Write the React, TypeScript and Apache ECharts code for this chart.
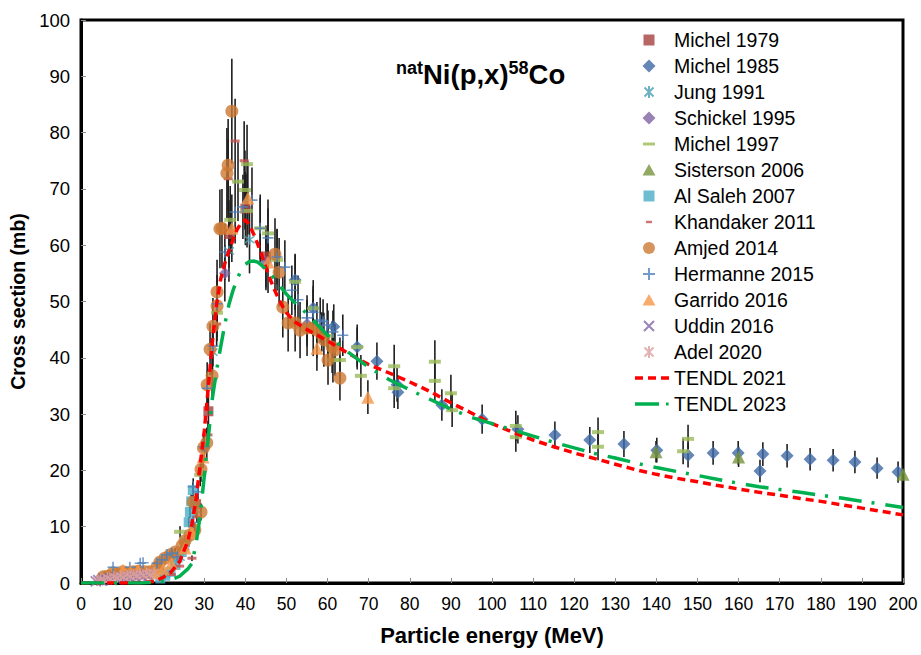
import React, { useEffect, useRef } from 'react';
import * as echarts from 'echarts';

// [energy (MeV), cross section (mb), uncertainty (mb)]
type Pt = [number, number, number];

const michel1979: Pt[] = [[28.0, 14.0, 1.4], [31.0, 30.5, 3.0], [36.0, 62.0, 6.0], [40.0, 66.5, 6.5], [45.0, 58.0, 5.5]];

const michel1985: Pt[] = [
  [52.1, 53.8, 4.5], [56.5, 48.8, 4.0], [61.5, 45.5, 4.0], [67.2, 41.9, 3.5], [72.0, 39.4, 3.3],
  [77.1, 33.9, 3.0], [76.9, 35.2, 3.0], [87.8, 31.6, 2.8], [97.6, 29.1, 2.6], [106.3, 27.3, 2.5],
  [115.3, 26.3, 2.4], [123.8, 25.4, 2.3], [132.1, 24.7, 2.3], [140.1, 23.6, 2.2], [147.7, 22.7, 2.2],
  [153.8, 23.1, 2.1], [159.9, 23.1, 2.1], [165.9, 22.9, 2.1], [165.2, 19.9, 2.0], [171.8, 22.6, 2.1],
  [177.4, 22.0, 2.0], [183.0, 21.8, 2.0], [188.3, 21.5, 2.0], [193.7, 20.4, 1.9], [198.8, 19.7, 1.9],
];

const jung1991: Pt[] = [[20.5, 1.6, 0.2], [24.0, 4.6, 0.5], [28.0, 13.0, 1.3], [32.0, 41.0, 4.0], [36.0, 59.0, 5.5], [41.0, 61.0, 6.0]];

const schickel1995: Pt[] = [[25.0, 6.0, 0.6], [30.0, 24.0, 2.4], [35.0, 55.0, 5.0], [45.0, 57.0, 5.0], [55.0, 46.0, 4.0]];

const michel1997: Pt[] = [
  [24.1, 9.1, 1.0], [29.0, 19.2, 2.0], [33.1, 48.0, 5.0], [36.3, 64.5, 6.0], [38.2, 71.3, 7.0],
  [39.9, 69.8, 7.0], [40.4, 74.4, 7.0], [40.4, 66.1, 6.5], [43.6, 63.0, 6.0], [45.5, 62.1, 6.0],
  [47.7, 57.4, 5.5], [52.1, 53.5, 5.0], [56.5, 48.8, 5.0], [60.1, 43.9, 4.5], [61.3, 39.6, 4.0],
  [63.0, 39.6, 4.0], [67.2, 41.9, 4.0], [68.1, 36.8, 3.7], [76.2, 38.5, 3.8], [76.2, 34.6, 3.5],
  [86.1, 39.3, 3.8], [86.1, 35.9, 3.5], [90.0, 33.7, 3.3], [90.3, 30.7, 3.0], [105.8, 27.9, 2.7],
  [105.8, 25.9, 2.6], [125.8, 26.8, 2.6], [125.8, 24.2, 2.4], [147.7, 25.6, 2.5], [146.5, 23.4, 2.3],
];

const sisterson2006: Pt[] = [[58.6, 44.6, 3.5], [139.9, 23.3, 1.9], [160.0, 22.4, 1.8], [200.0, 19.3, 1.6]];

const alSaleh2007: Pt[] = [
  [19.3, 0.8, 0], [20.5, 1.3, 0], [21.8, 2.0, 0], [23.0, 3.2, 0.3], [23.5, 4.5, 0.4], [24.5, 5.5, 0.5],
  [25.3, 7.2, 0.6], [26.2, 10.8, 0.9], [26.5, 12.6, 1.0], [26.8, 14.5, 1.2], [27.2, 16.5, 1.4],
];

const khandaker2011: Pt[] = [
  [22.0, 1.5, 0], [24.0, 3.0, 0], [27.0, 4.4, 0.5], [28.2, 11.7, 1.0], [30.9, 26.3, 2.5],
  [33.0, 46.0, 4.0], [35.8, 71.8, 7.0], [37.5, 78.5, 7.5], [39.7, 75.0, 7.0],
];

const amjed2014: Pt[] = [
  [5.4, 1.1, 0], [6.5, 1.2, 0], [7.8, 1.8, 0], [9.0, 1.6, 0], [10.2, 2.0, 0], [11.5, 1.8, 0],
  [12.7, 2.0, 0], [14.0, 2.1, 0], [15.5, 2.0, 0], [16.8, 2.0, 0], [18.5, 2.8, 0.5], [19.2, 3.7, 0.5],
  [20.4, 4.4, 0.6], [21.7, 5.0, 0.7], [22.9, 5.5, 0.7], [24.6, 6.6, 0.8], [25.3, 7.5, 0.9], [26.5, 8.5, 1.0],
  [27.7, 9.4, 1.2], [27.3, 14.4, 1.6], [29.2, 12.6, 1.5], [29.2, 20.2, 2.2], [29.8, 24.0, 2.6], [30.6, 24.9, 2.7],
  [30.7, 35.2, 4.0], [31.9, 36.8, 4.0], [31.4, 41.5, 4.6], [32.1, 45.6, 5.0], [33.1, 49.2, 5.5], [33.1, 51.7, 5.7],
  [34.3, 63.0, 7.0], [33.8, 62.9, 7.0], [35.5, 72.8, 8.0], [35.8, 74.2, 8.2], [36.7, 83.8, 9.3], [47.2, 58.4, 6.4],
  [48.2, 55.2, 6.1], [49.1, 49.0, 5.4], [50.4, 46.2, 5.1], [52.1, 46.2, 5.1], [53.3, 44.9, 5.0], [55.0, 45.3, 5.0],
  [56.5, 45.3, 5.0], [57.4, 44.9, 5.0], [59.1, 43.2, 4.8], [60.1, 39.6, 4.4], [61.1, 41.9, 4.6], [61.8, 41.4, 4.6],
  [63.0, 36.4, 4.0],
];

const hermanne2015: Pt[] = [
  [7.8, 2.8, 0], [11.9, 2.8, 0], [14.4, 3.5, 0], [15.1, 3.6, 0], [18.5, 3.5, 0.4], [19.7, 4.1, 0.4],
  [20.9, 5.0, 0.5], [22.1, 5.3, 0.5], [23.4, 4.6, 0.5], [27.3, 10.8, 1.0], [27.3, 17.1, 1.5], [28.5, 16.2, 1.5],
  [29.9, 24.2, 2.2], [30.7, 34.6, 3.0], [32.1, 42.1, 3.6], [33.1, 49.6, 4.2], [35.0, 58.8, 5.0], [37.5, 65.9, 5.6],
  [39.4, 66.8, 5.7], [41.6, 68.0, 5.8], [43.6, 63.0, 5.4], [45.5, 61.3, 5.2], [47.7, 57.9, 4.9], [49.6, 56.1, 4.8],
  [51.3, 52.0, 4.4], [52.8, 50.3, 4.3], [55.0, 47.1, 4.0], [56.5, 48.1, 4.1], [58.2, 46.7, 4.0], [58.9, 46.4, 4.0],
  [59.9, 45.8, 3.9], [61.3, 44.6, 3.8], [63.7, 44.0, 3.7],
];

const garrido2016: Pt[] = [
  [10.2, 2.3, 0], [12.0, 2.0, 0], [13.9, 2.3, 0], [16.0, 1.8, 0], [18.0, 1.8, 0], [20.0, 2.5, 0.3],
  [22.0, 3.5, 0.4], [25.3, 6.2, 0.7], [27.0, 9.0, 1.0], [29.7, 22.4, 2.0], [36.7, 63.0, 6.0], [40.6, 68.4, 6.5],
  [45.5, 57.0, 5.5], [57.4, 41.7, 4.0], [69.8, 33.0, 3.0],
];

const uddin2016: Pt[] = [
  [3.6, 0.3, 0], [4.2, 0.5, 0], [5.0, 0.4, 0], [5.5, 0.8, 0], [6.2, 0.6, 0], [7.0, 0.9, 0], [7.5, 0.5, 0],
  [8.2, 1.0, 0], [9.0, 0.7, 0], [9.8, 1.1, 0], [10.5, 0.8, 0], [11.3, 1.2, 0], [12.0, 0.9, 0], [12.8, 1.3, 0],
  [13.5, 1.0, 0], [14.3, 1.4, 0], [15.0, 1.1, 0], [15.8, 1.5, 0], [16.5, 1.2, 0],
];

const adel2020: Pt[] = [
  [4.0, 0.4, 0], [4.8, 0.7, 0], [5.6, 0.5, 0], [6.4, 1.0, 0], [7.2, 0.7, 0], [8.0, 1.2, 0], [8.8, 0.9, 0],
  [9.6, 1.3, 0], [10.4, 1.0, 0], [11.2, 1.5, 0], [12.0, 1.1, 0], [12.8, 1.6, 0], [13.6, 1.2, 0], [14.4, 1.7, 0],
  [15.2, 1.3, 0], [16.0, 1.8, 0], [16.8, 1.4, 0], [17.6, 1.9, 0],
];

// Evaluated TENDL excitation functions
const tendlEnergy = [
  0, 10, 15, 18, 20, 22, 24, 26, 27, 28, 29, 30, 31, 32, 33, 34, 35, 36, 37, 38, 39, 40, 41, 42, 43, 44, 45, 46,
  47, 48, 49, 50, 52, 55, 58, 60, 65, 70, 75, 80, 85, 90, 95, 100, 105, 110, 115, 120, 125, 130, 135, 140, 145,
  150, 155, 160, 165, 170, 175, 180, 185, 190, 195, 200,
];
const tendl2021 = [
  0, 0, 0.05, 0.3, 1.0, 2.0, 3.8, 7.5, 10.5, 15, 21, 27, 35, 43, 49.5, 54, 56.8, 59, 61, 62.8, 64, 64.5, 63.6, 62,
  60.2, 58.2, 56, 54, 52.2, 50.6, 49.2, 48, 46.4, 45, 43.8, 43, 40.8, 38.8, 37.3, 35.7, 34, 32, 30.2, 28.3, 26.8,
  25.4, 24.2, 23.1, 22.1, 21.1, 20.1, 19.3, 18.6, 18, 17.3, 16.7, 16.1, 15.6, 15, 14.5, 13.9, 13.3, 12.7, 12.1,
];
const tendl2023 = [
  0, 0, 0.02, 0.1, 0.3, 0.6, 1.2, 2.5, 3.5, 7, 12, 19, 26, 33, 37.8, 42, 46, 49.5, 52, 54, 55.6, 56.6, 57.1, 57.2,
  57, 56.4, 55.7, 55, 54.1, 53.2, 52.2, 51.3, 49.8, 47.8, 45.5, 44, 41, 38.3, 36.1, 34.3, 32.6, 30.9, 29.4, 28.3,
  27.2, 26.1, 25, 24, 23, 22.2, 21.3, 20.5, 19.8, 19.1, 18.4, 17.7, 17.1, 16.6, 16.1, 15.6, 15.1, 14.5, 14, 13.4,
];

const xTicks = { min: 0, max: 200, interval: 10 };
const yTicks = { min: 0, max: 100, interval: 10 };

// Legend icons share a fixed 34x14 box so each glyph keeps its pixel size.
const BOX = 'M0,0M34,14';
const ICON = {
  square: `path://${BOX}M8.5,1.5h11v11h-11z`,
  diamond: `path://${BOX}M14,0.5L20.5,7L14,13.5L7.5,7z`,
  asterisk: `path://${BOX}M9.5,2.5L18.5,11.5M18.5,2.5L9.5,11.5M14,1V13`,
  dash: `path://${BOX}M8,5.5h12v3h-12z`,
  triangle: `path://${BOX}M14,1L20.5,12.5H7.5z`,
  smallDash: `path://${BOX}M11,5.8h6v2.4h-6z`,
  circle: `path://${BOX}M8,7a6,6 0 1,0 12,0a6,6 0 1,0 -12,0z`,
  plus: `path://${BOX}M8,7H20M14,1V13`,
  cross: `path://${BOX}M9,2L19,12M19,2L9,12`,
  redDashes: `path://${BOX}M0,5.25h8v3.5h-8zM13,5.25h8v3.5h-8zM26,5.25h8v3.5h-8z`,
  dashDot: `path://${BOX}M0,5.25h24v3.5h-24zM31,5.6h2.6v2.8h-2.6z`,
};
const MARK = {
  plus: 'path://M0,5H10M5,0V10',
  cross: 'path://M0,0L10,10M10,0L0,10',
  asterisk: 'path://M1.5,1.5L8.5,8.5M8.5,1.5L1.5,8.5M5,0V10',
};

type Def = { name: string; points: Pt[]; symbol: string; size: number | number[]; color: string; icon: string; stroke?: boolean };

const datasets: Def[] = [
  { name: 'Michel 1979', points: michel1979, symbol: 'rect', size: 10, color: '#A5403D', icon: ICON.square },
  { name: 'Michel 1985', points: michel1985, symbol: 'diamond', size: 13, color: '#3F69A6', icon: ICON.diamond },
  { name: 'Jung 1991', points: jung1991, symbol: MARK.asterisk, size: 10, color: '#4A9FB3', icon: ICON.asterisk, stroke: true },
  { name: 'Schickel 1995', points: schickel1995, symbol: 'diamond', size: 12, color: '#8064A2', icon: ICON.diamond },
  { name: 'Michel 1997', points: michel1997, symbol: 'rect', size: [12, 4], color: '#9BBB59', icon: ICON.dash },
  { name: 'Sisterson 2006', points: sisterson2006, symbol: 'triangle', size: 13, color: '#77933C', icon: ICON.triangle },
  { name: 'Al Saleh 2007', points: alSaleh2007, symbol: 'rect', size: 10, color: '#4BACC6', icon: ICON.square },
  { name: 'Khandaker 2011', points: khandaker2011, symbol: 'rect', size: [9, 3], color: '#C0504D', icon: ICON.smallDash },
  { name: 'Amjed 2014', points: amjed2014, symbol: 'circle', size: 13, color: '#CC7832', icon: ICON.circle },
  { name: 'Hermanne 2015', points: hermanne2015, symbol: MARK.plus, size: 11, color: '#4F81BD', icon: ICON.plus, stroke: true },
  { name: 'Garrido 2016', points: garrido2016, symbol: 'triangle', size: 13, color: '#F79646', icon: ICON.triangle },
  { name: 'Uddin 2016', points: uddin2016, symbol: MARK.cross, size: 10, color: '#7F64A6', icon: ICON.cross, stroke: true },
  { name: 'Adel 2020', points: adel2020, symbol: MARK.asterisk, size: 10, color: '#D9A0A0', icon: ICON.asterisk, stroke: true },
];

const FONT = "'Liberation Sans', Arial, Helvetica, sans-serif";

function buildOption() {
  const errorBars = datasets.flatMap((d) =>
    d.points.filter((p) => p[2] > 0).map((p) => [p[0], p[1] - p[2], p[1] + p[2]])
  );

  const scatter = datasets.map((d) => ({
    type: 'scatter',
    name: d.name,
    data: d.points.map((p) => [p[0], p[1]]),
    symbol: d.symbol,
    symbolSize: d.size,
    itemStyle: d.stroke
      ? { color: 'rgba(0,0,0,0)', borderColor: d.color, borderWidth: 1.6 }
      : { color: d.color, borderWidth: 0 },
    z: 3,
    silent: true,
  }));

  return {
    animation: false,
    textStyle: { fontFamily: FONT },
    title: {
      text: '{s|nat}{m|Ni(p,x)}{s|58}{m|Co}',
      left: 391,
      top: 54,
      textStyle: {
        rich: {
          s: { fontSize: 18, fontWeight: 'bold', color: '#000', verticalAlign: 'top', lineHeight: 18, fontFamily: FONT },
          m: { fontSize: 27.5, fontWeight: 'bold', color: '#000', lineHeight: 31, fontFamily: FONT },
        },
      },
    },
    grid: {
      left: 81,
      right: 18,
      top: 20,
      bottom: 72,
      show: true,
      borderColor: '#000',
      borderWidth: 3,
      containLabel: false,
    },
    legend: {
      orient: 'vertical',
      left: 634,
      top: 30,
      padding: 0,
      itemWidth: 34,
      itemHeight: 14,
      itemGap: 6,
      selectedMode: false,
      textStyle: { fontSize: 19.5, color: '#000', lineHeight: 20, fontFamily: FONT },
      data: [
        ...datasets.map((d) => ({ name: d.name, icon: d.icon })),
        { name: 'TENDL 2021', icon: ICON.redDashes, itemStyle: { color: '#FF0000', borderWidth: 0 } },
        { name: 'TENDL 2023', icon: ICON.dashDot, itemStyle: { color: '#00B050', borderWidth: 0 } },
      ],
    },
    xAxis: {
      type: 'value',
      ...xTicks,
      name: 'Particle energy (MeV)',
      nameLocation: 'middle',
      nameGap: 41,
      nameTextStyle: { fontSize: 22, fontWeight: 'bold', color: '#000', fontFamily: FONT },
      axisLine: { show: true, lineStyle: { color: '#000', width: 3 } },
      axisTick: { show: true, inside: true, length: 5, lineStyle: { color: '#8c8c8c', width: 1 } },
      axisLabel: { fontSize: 17.5, color: '#000', margin: 12 },
      splitLine: { show: false },
    },
    yAxis: {
      type: 'value',
      ...yTicks,
      name: 'Cross section (mb)',
      nameLocation: 'middle',
      nameGap: 50,
      nameTextStyle: { fontSize: 19.5, fontWeight: 'bold', color: '#000', fontFamily: FONT },
      axisLine: { show: true, lineStyle: { color: '#000', width: 3 } },
      axisTick: { show: true, inside: true, length: 5, lineStyle: { color: '#8c8c8c', width: 1 } },
      axisLabel: { fontSize: 18.5, color: '#000', margin: 11 },
      splitLine: { show: false },
    },
    series: [
      {
        type: 'custom',
        name: 'uncertainty',
        data: errorBars,
        encode: { x: 0, y: [1, 2] },
        z: 2,
        silent: true,
        clip: true,
        renderItem: (_params: any, api: any) => {
          const x = api.value(0);
          const lo = api.coord([x, api.value(1)]);
          const hi = api.coord([x, api.value(2)]);
          return {
            type: 'line',
            shape: { x1: lo[0], y1: lo[1], x2: hi[0], y2: hi[1] },
            style: { stroke: '#1f1f1f', lineWidth: 1.6 },
          };
        },
      },
      ...scatter,
      {
        type: 'line',
        name: 'TENDL 2021',
        data: tendlEnergy.map((e, i) => [e, tendl2021[i]]),
        symbol: 'none',
        showSymbol: false,
        itemStyle: { color: '#FF0000' },
        lineStyle: { color: '#FF0000', width: 3.5, type: [8, 5] },
        z: 4,
        silent: true,
      },
      {
        type: 'line',
        name: 'TENDL 2023',
        data: tendlEnergy.map((e, i) => [e, tendl2023[i]]),
        symbol: 'none',
        showSymbol: false,
        itemStyle: { color: '#00B050' },
        lineStyle: { color: '#00B050', width: 3.5, type: [23, 10, 3, 11] },
        z: 4,
        silent: true,
      },
    ],
  };
}

export default function App() {
  const ref = useRef<HTMLDivElement>(null);
  useEffect(() => {
    if (!ref.current) return;
    const chart = echarts.init(ref.current, null, { renderer: 'svg' });
    chart.setOption(buildOption() as any);
    return () => chart.dispose();
  }, []);
  return (
    <div
      ref={ref}
      style={{ position: 'fixed', left: 0, top: 0, width: 921, height: 655, background: '#fff' }}
    />
  );
}
